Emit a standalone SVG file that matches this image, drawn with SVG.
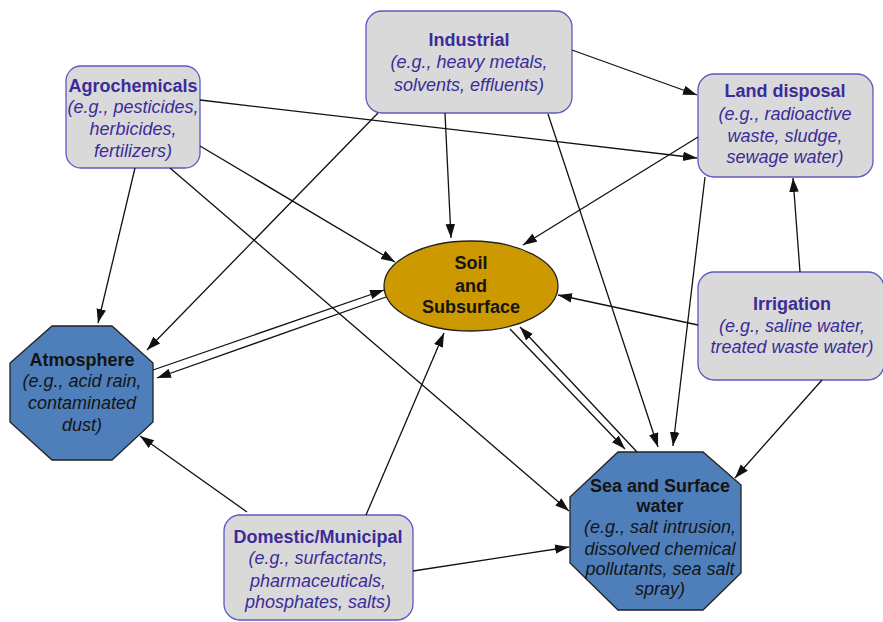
<svg xmlns="http://www.w3.org/2000/svg" width="883" height="622" viewBox="0 0 883 622">
  <defs>
    <marker id="arrow" markerUnits="userSpaceOnUse" markerWidth="15" markerHeight="10" refX="14" refY="4.75" orient="auto">
      <path d="M0,0 L14,4.75 L0,9.5 Z" fill="#111"/>
    </marker>
    <style>
      .src { fill: #d9d9d9; stroke: #5a5ac0; stroke-width: 1.3; }
      .env { fill: #4f7fbb; stroke: #222; stroke-width: 1.3; }
      .soil { fill: #cc9900; stroke: #222; stroke-width: 1.3; }
      .t { font-family: "Liberation Sans", Arial, sans-serif; text-anchor: middle; }
      .h { font-weight: bold; font-size: 18px; }
      .i { font-style: italic; font-size: 18px; }
      .pu { fill: #3b2c99; }
      .dk { fill: #141414; }
      .edge { stroke: #111; stroke-width: 1.3; fill: none; marker-end: url(#arrow); }
    </style>
  </defs>

  <rect width="883" height="622" fill="#ffffff"/>

  <!-- Source nodes -->
  <g id="industrial">
    <rect class="src" x="366" y="11" width="206" height="102" rx="16"/>
    <text class="t h pu" x="469" y="46">Industrial</text>
    <text class="t i pu" x="469" y="68">(e.g., heavy metals,</text>
    <text class="t i pu" x="469" y="91">solvents, effluents)</text>
  </g>

  <g id="agrochemicals">
    <rect class="src" x="66" y="66" width="134" height="102" rx="15"/>
    <text class="t h pu" x="133" y="92">Agrochemicals</text>
    <text class="t i pu" x="133" y="113">(e.g., pesticides,</text>
    <text class="t i pu" x="133" y="135">herbicides,</text>
    <text class="t i pu" x="133" y="157">fertilizers)</text>
  </g>

  <g id="land-disposal">
    <rect class="src" x="698" y="74" width="175" height="103" rx="16"/>
    <text class="t h pu" x="785" y="97">Land disposal</text>
    <text class="t i pu" x="785" y="120">(e.g., radioactive</text>
    <text class="t i pu" x="785" y="142">waste, sludge,</text>
    <text class="t i pu" x="785" y="163">sewage water)</text>
  </g>

  <g id="irrigation">
    <rect class="src" x="698" y="272" width="186" height="108" rx="16"/>
    <text class="t h pu" x="792" y="310">Irrigation</text>
    <text class="t i pu" x="792" y="332">(e.g., saline water,</text>
    <text class="t i pu" x="792" y="353">treated waste water)</text>
  </g>

  <g id="domestic">
    <rect class="src" x="224" y="515" width="189" height="105" rx="16"/>
    <text class="t h pu" x="318" y="543">Domestic/Municipal</text>
    <text class="t i pu" x="318" y="564">(e.g., surfactants,</text>
    <text class="t i pu" x="318" y="587">pharmaceuticals,</text>
    <text class="t i pu" x="318" y="608">phosphates, salts)</text>
  </g>

  <!-- Receiving compartments -->
  <g id="soil">
    <ellipse class="soil" cx="471" cy="286" rx="87" ry="45"/>
    <text class="t h dk" x="471" y="269">Soil</text>
    <text class="t h dk" x="471" y="292">and</text>
    <text class="t h dk" x="471" y="313">Subsurface</text>
  </g>

  <g id="atmosphere">
    <polygon class="env" points="52,326 112,326 153,363 153,422 112,460 52,460 10,422 10,363"/>
    <text class="t h dk" x="82" y="366">Atmosphere</text>
    <text class="t i dk" x="82" y="387">(e.g., acid rain,</text>
    <text class="t i dk" x="82" y="409">contaminated</text>
    <text class="t i dk" x="82" y="431">dust)</text>
  </g>

  <g id="sea">
    <polygon class="env" points="618,452 703,452 741,485 741,573 703,610 618,610 570,563 570,497"/>
    <text class="t h dk" x="660" y="492">Sea and Surface</text>
    <text class="t h dk" x="660" y="512">water</text>
    <text class="t i dk" x="660" y="533">(e.g., salt intrusion,</text>
    <text class="t i dk" x="660" y="555">dissolved chemical</text>
    <text class="t i dk" x="660" y="575">pollutants, sea salt</text>
    <text class="t i dk" x="660" y="595">spray)</text>
  </g>

  <!-- Connectors -->
  <g id="connectors">
    <line class="edge" x1="572" y1="50" x2="697" y2="95"/>
    <line class="edge" x1="445" y1="113" x2="451" y2="238"/>
    <line class="edge" x1="378" y1="113" x2="147" y2="350"/>
    <line class="edge" x1="548" y1="114" x2="658" y2="447"/>

    <line class="edge" x1="200" y1="100" x2="697" y2="158"/>
    <line class="edge" x1="200" y1="146" x2="395" y2="262"/>
    <line class="edge" x1="135" y1="168" x2="98" y2="323"/>
    <line class="edge" x1="170" y1="168" x2="569" y2="511"/>

    <line class="edge" x1="698" y1="137" x2="523" y2="245"/>
    <line class="edge" x1="705" y1="177" x2="673" y2="446"/>

    <line class="edge" x1="800" y1="272" x2="793" y2="178"/>
    <line class="edge" x1="698" y1="325" x2="558" y2="295"/>
    <line class="edge" x1="822" y1="380" x2="735" y2="478"/>

    <line class="edge" x1="153" y1="370" x2="384" y2="290"/>
    <line class="edge" x1="386" y1="297" x2="157" y2="378"/>

    <line class="edge" x1="510" y1="329" x2="625" y2="449"/>
    <line class="edge" x1="637" y1="452" x2="520" y2="327"/>

    <line class="edge" x1="247" y1="512" x2="140" y2="436"/>
    <line class="edge" x1="366" y1="515" x2="444" y2="333"/>
    <line class="edge" x1="413" y1="571" x2="569" y2="547"/>
  </g>
</svg>
